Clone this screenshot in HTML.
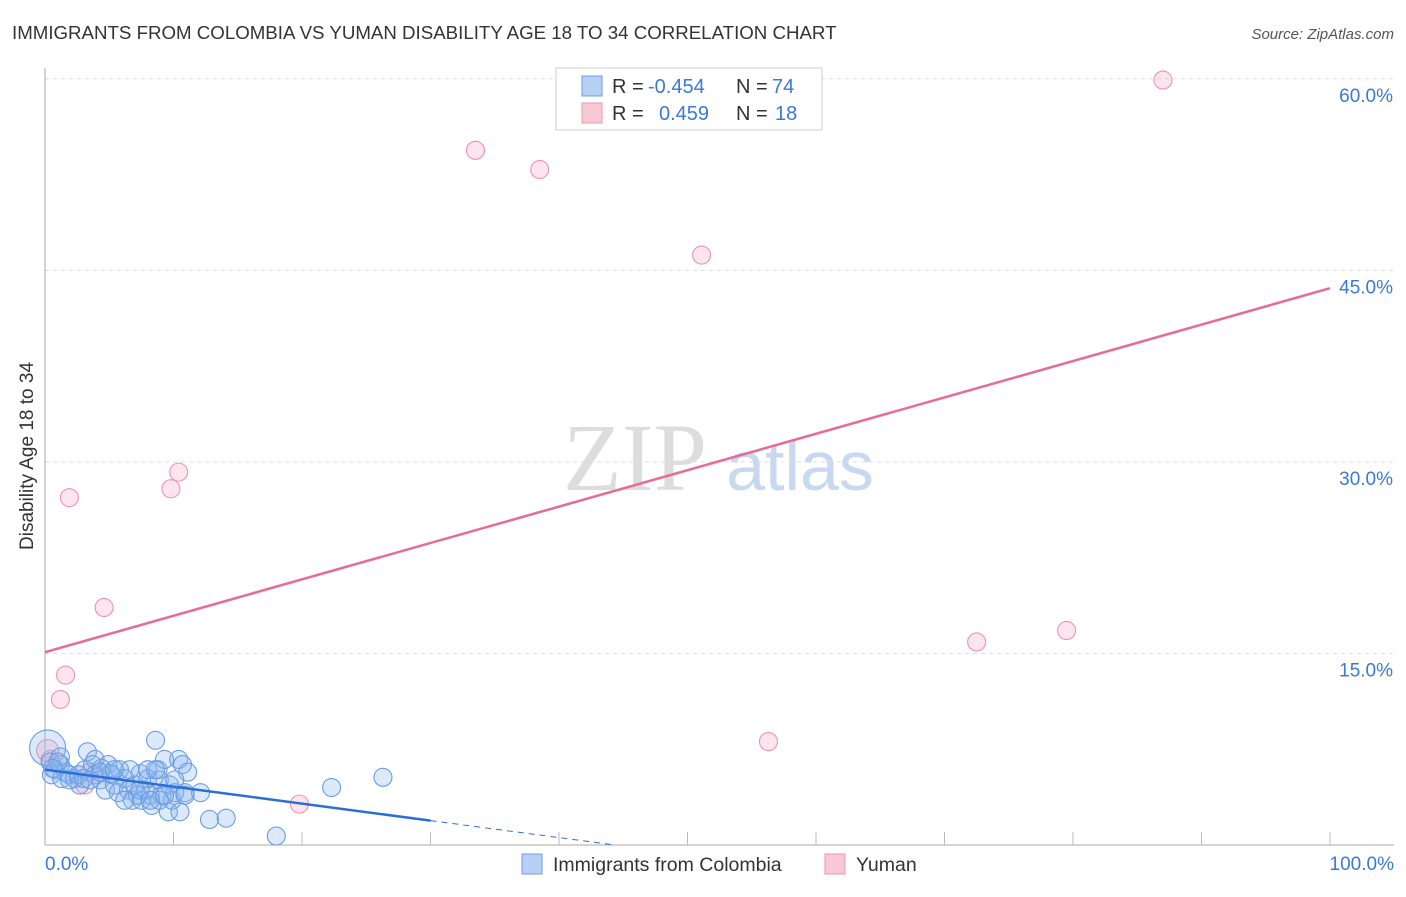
<!DOCTYPE html>
<html><head><meta charset="utf-8"><style>
body{margin:0;background:#fff;font-family:"Liberation Sans",sans-serif}
</style></head><body>
<svg id="c" width="1406" height="892" xmlns="http://www.w3.org/2000/svg">
<text x="12" y="39" font-size="18.7" fill="#333">IMMIGRANTS FROM COLOMBIA VS YUMAN DISABILITY AGE 18 TO 34 CORRELATION CHART</text>
<text x="1394" y="39" font-size="15" fill="#555" font-style="italic" text-anchor="end">Source: ZipAtlas.com</text>
<text x="33" y="456" font-size="19" fill="#333" text-anchor="middle" transform="rotate(-90 33 456)">Disability Age 18 to 34</text>
<g><text x="635" y="490" font-size="96" font-family="Liberation Serif,serif" fill="#ddd" text-anchor="middle">ZIP</text><text x="800" y="490" font-size="70" fill="#c8d8f0" text-anchor="middle">atlas</text></g>
<g id="grid"></g><g id="marks"></g>
<g font-size="20" fill="#333">
<rect x="556" y="68" width="266" height="62" fill="#fff" stroke="#ccc"/>
<rect x="582" y="76" width="20" height="20" fill="#b8d0f4" stroke="#6b9ce6"/>
<rect x="582" y="103" width="20" height="20" fill="#f9c8d6" stroke="#ec93ae"/>
<text x="612" y="93">R =</text><text x="648" y="93" fill="#3b78d8">-0.454</text><text x="736" y="93">N =</text><text x="772" y="93" fill="#3b78d8">74</text>
<text x="612" y="120">R =</text><text x="659" y="120" fill="#3b78d8">0.459</text><text x="736" y="120">N =</text><text x="775" y="120" fill="#3b78d8">18</text>
</g>
<g>
<rect x="522" y="854" width="20" height="20" fill="#b8d0f4" stroke="#6b9ce6"/>
<text x="553" y="871" font-size="19.5" fill="#333">Immigrants from Colombia</text>
<rect x="825" y="854" width="20" height="20" fill="#f9c8d6" stroke="#ec93ae"/>
<text x="856" y="871" font-size="19.5" fill="#333">Yuman</text>
</g>
</svg>
<script>
const yTicks=[15,30,45,60];
const yTickLabels=["15.0%","30.0%","45.0%","60.0%"];
const xEndLabels=["0.0%","100.0%"];
const blueX=[0.2,0.4,0.8,1.2,1.6,1.9,0.5,1.3,2.3,2.7,3.1,3.3,3.7,3.9,4.3,4.7,4.9,5.2,5.4,5.7,5.8,6.2,6.5,6.8,7.0,7.4,7.5,7.8,8.0,8.2,8.3,8.6,8.8,8.9,9.1,9.3,9.6,9.7,9.9,10.1,10.4,10.5,10.7,10.9,11.1,12.1,12.8,14.1,18.0,22.3,26.3,1.2,1.9,2.6,3.0,3.9,4.4,5.1,6.6,7.2,8.0,8.9,10.1,10.9,3.5,4.3,5.4,6.2,7.4,8.2,9.3,8.6,1.0,0.6];
const blueY=[7.6,6.5,5.9,6.3,5.7,5.5,5.5,5.2,5.2,4.7,5.9,7.3,6.3,5.5,5.1,4.3,6.3,5.5,4.7,4.1,5.9,5.2,4.3,3.5,4.7,5.6,3.5,4.3,5.2,3.9,3.1,8.2,5.9,5.1,3.9,6.7,2.6,4.7,3.5,4.1,6.7,2.6,6.3,4.1,5.7,4.1,2.0,2.1,0.7,4.5,5.3,6.9,5.1,5.5,5.2,6.7,6.0,5.6,5.9,3.9,5.9,3.5,5.1,3.9,5.1,5.7,5.9,3.5,4.3,3.5,3.9,5.9,6.5,6.0];
const pinkX=[87.0,33.5,38.5,51.1,10.4,9.8,1.9,4.6,1.6,1.2,72.5,79.5,56.3,19.8,0.2,3.1,3.5,0.4];
const pinkY=[59.9,54.4,52.9,46.2,29.2,27.9,27.2,18.6,13.3,11.4,15.9,16.8,8.1,3.2,7.4,4.7,5.7,6.7];
const blueTrend=[5.9,-0.133];
const pinkTrend=[15.1,0.285];
const X=v=>45+v*12.85, Y=v=>845-v*12.77;
const NS="http://www.w3.org/2000/svg";
function mk(t,a,p){const e=document.createElementNS(NS,t);for(const k in a)e.setAttribute(k,a[k]);p.appendChild(e);return e;}
const g=document.getElementById('grid'), m=document.getElementById('marks');
yTicks.forEach((t,i)=>{
 const l=mk('line',{x1:45,x2:1394,y1:Y(t),y2:Y(t),stroke:'#ddd','stroke-dasharray':'4,4'},g);
 
 
 const tx=mk('text',{x:1393,y:Y(t)+23,'font-size':19,fill:'#3b78d8','text-anchor':'end'},g);tx.textContent=yTickLabels[i];
 
 
});
mk('line',{x1:45,x2:45,y1:68,y2:845,stroke:'#aaa'},g);
mk('line',{x1:45,x2:1394,y1:845,y2:845,stroke:'#aaa'},g);
for(let i=1;i<=10;i++){const l=mk('line',{x1:X(i*10),x2:X(i*10),y1:832,y2:845,stroke:'#bbb'},g);
 
 }
const a=mk('text',{x:45,y:870,'font-size':19,fill:'#3b78d8'},g);a.textContent=xEndLabels[0];


const b=mk('text',{x:1394,y:870,'font-size':19,fill:'#3b78d8','text-anchor':'end'},g);b.textContent=xEndLabels[1];


pinkX.forEach((x,i)=>{const c=mk('circle',{cx:X(x),cy:Y(pinkY[i]),r:i==14?11:9,fill:'rgba(245,170,195,0.3)',stroke:'#ec93ae','stroke-width':1.1},m);
 
 });
blueX.forEach((x,i)=>{const c=mk('circle',{cx:X(x),cy:Y(blueY[i]),r:i==0?18:9,fill:'rgba(140,182,238,0.3)',stroke:'#6a9de3','stroke-width':1.1},m);
 
 });
const bx0=0,bx1=30,bx2=-blueTrend[0]/blueTrend[1];
const t1=mk('line',{x1:X(bx0),y1:Y(blueTrend[0]),x2:X(bx1),y2:Y(blueTrend[0]+blueTrend[1]*bx1),stroke:'#2a6fd8','stroke-width':2.5},m);


const t2=mk('line',{x1:X(bx1),y1:Y(blueTrend[0]+blueTrend[1]*bx1),x2:X(bx2),y2:Y(0),stroke:'#2a6fd8','stroke-width':1,'stroke-dasharray':'6,5'},m);


const t3=mk('line',{x1:X(0),y1:Y(pinkTrend[0]),x2:X(100),y2:Y(pinkTrend[0]+pinkTrend[1]*100),stroke:'#e86a96','stroke-width':2.5},m);


</script>
</body></html>
